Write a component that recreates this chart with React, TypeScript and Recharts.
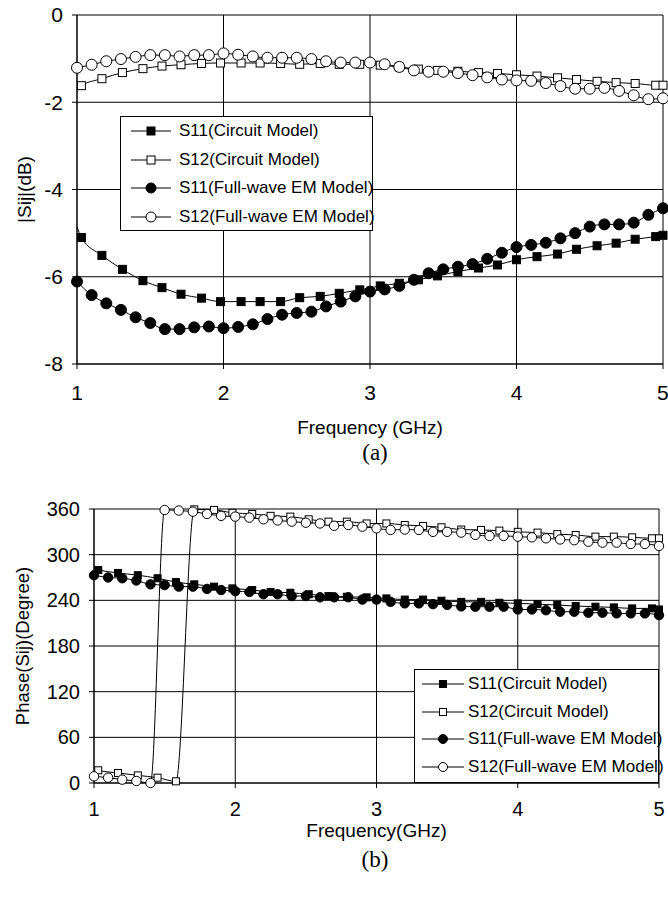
import { LineChart, Line, XAxis, YAxis, CartesianGrid, Legend } from 'recharts';

// frequency points (GHz)
const freqCircuit = [
  1.0, 1.03, 1.17, 1.31, 1.45, 1.58, 1.71, 1.85, 1.98, 2.12, 2.25, 2.39, 2.52, 2.66, 2.79, 2.93,
  3.07, 3.2, 3.33, 3.46, 3.6, 3.74, 3.87, 4.0, 4.14, 4.28, 4.41, 4.55, 4.68, 4.81, 4.95, 5.0,
];
const freqEM = [
  1.0, 1.1, 1.2, 1.3, 1.4, 1.5, 1.6, 1.7, 1.8, 1.9, 2.0, 2.1, 2.2, 2.3, 2.4, 2.5, 2.6, 2.7, 2.8, 2.9,
  3.0, 3.1, 3.2, 3.3, 3.4, 3.5, 3.6, 3.7, 3.8, 3.9, 4.0, 4.1, 4.2, 4.3, 4.4, 4.5, 4.6, 4.7, 4.8, 4.9, 5.0,
];

// (a) magnitude, dB
const s11CircuitDb = [
  -4.85, -5.1, -5.51, -5.83, -6.09, -6.25, -6.4, -6.49, -6.57, -6.57, -6.57, -6.57, -6.48, -6.45, -6.38, -6.3,
  -6.21, -6.15, -6.07, -5.98, -5.88, -5.8, -5.73, -5.61, -5.54, -5.48, -5.37, -5.29, -5.23, -5.14, -5.08, -5.05,
];
const s12CircuitDb = [
  -1.72, -1.62, -1.46, -1.32, -1.23, -1.17, -1.14, -1.11, -1.1, -1.1, -1.1, -1.11, -1.13, -1.11, -1.13, -1.13,
  -1.15, -1.19, -1.24, -1.27, -1.29, -1.32, -1.34, -1.37, -1.4, -1.44, -1.48, -1.52, -1.55, -1.57, -1.61, -1.61,
];
const s11EmDb = [
  -6.11, -6.42, -6.61, -6.76, -6.93, -7.06, -7.2, -7.2, -7.16, -7.14, -7.18,
  -7.15, -7.09, -6.97, -6.87, -6.83, -6.8, -6.68, -6.57, -6.45, -6.34,
  -6.29, -6.21, -6.07, -5.92, -5.83, -5.77, -5.71, -5.59, -5.45, -5.32,
  -5.27, -5.22, -5.12, -5.0, -4.85, -4.8, -4.8, -4.76, -4.58, -4.43,
];
const s12EmDb = [
  -1.21, -1.14, -1.06, -1.01, -0.96, -0.92, -0.92, -0.95, -0.92, -0.92, -0.88,
  -0.91, -0.95, -0.98, -0.98, -0.98, -1.01, -1.06, -1.09, -1.09, -1.09,
  -1.13, -1.19, -1.27, -1.3, -1.3, -1.33, -1.38, -1.43, -1.48, -1.5,
  -1.51, -1.56, -1.63, -1.69, -1.69, -1.67, -1.74, -1.84, -1.93, -1.91,
];

// (b) phase, degree
const s11CircuitPh = [
  281, 279.8, 276, 273, 269, 264, 261, 258, 255.7, 253.5, 251, 250, 248, 245.6, 244.7, 243.9,
  242.5, 241, 241, 239.5, 238, 238, 236.8, 236, 235, 233.8, 232.5, 231.6, 230.7, 229.4, 229.4, 228,
];
const s12CircuitPh = [
  19, 16.7, 13.2, 10, 7, 2.2, 359.5, 358.8, 355, 353.5, 351, 350, 346.5, 343.4, 343.4, 341,
  341, 339, 337.7, 336, 333, 332.5, 331.6, 330, 329, 327, 325.9, 323.7, 323.7, 322.8, 321.5, 321.5,
];
const s11EmPh = [
  273, 270, 269, 266, 261, 260, 258, 258, 255, 253.5, 252,
  251, 248, 248, 245.6, 245.6, 244, 244, 244, 241, 241,
  238, 236, 236, 235, 234, 232, 231.6, 231.6, 231.6, 228,
  228, 227, 225, 225, 223.7, 223.7, 222.8, 222.8, 222.8, 220.6,
];
const s12EmPh = [
  8.8, 7, 4.4, 2.6, 0, 358.7, 358, 356.5, 353.5, 351, 350,
  348.7, 346.5, 345, 343.4, 342, 341, 338, 339, 336.8, 334.6,
  332.5, 333, 332.5, 330, 330, 329, 326, 324.6, 324.6, 323.7,
  322.8, 321.5, 320, 319, 317, 315.8, 315.8, 314, 314, 311.4,
];

const freqTicks = [1, 2, 3, 4, 5];
const dbTicks = [-8, -6, -4, -2, 0];
const phaseTicks = [0, 60, 120, 180, 240, 300, 360];

const seriesNames = [
  'S11(Circuit Model)',
  'S12(Circuit Model)',
  'S11(Full-wave EM Model)',
  'S12(Full-wave EM Model)',
];

const zip = (xs: number[], ys: number[]) => xs.map((f, i) => ({ f, v: ys[i] }));

const FONT = 'Arial, "Liberation Sans", sans-serif';

type Shape = 'square' | 'circle';
const shapes: { shape: Shape; filled: boolean }[] = [
  { shape: 'square', filled: true },
  { shape: 'square', filled: false },
  { shape: 'circle', filled: true },
  { shape: 'circle', filled: false },
];

function Marker({ shape, filled, cx, cy, sq, r }: { shape: Shape; filled: boolean; cx: number; cy: number; sq: number; r: number }) {
  if (shape === 'square') {
    return (
      <rect x={cx - sq / 2} y={cy - sq / 2} width={sq} height={sq}
        fill={filled ? '#000' : '#fff'} stroke="#000" strokeWidth={1} />
    );
  }
  return <circle cx={cx} cy={cy} r={r} fill={filled ? '#000' : '#fff'} stroke="#000" strokeWidth={1} />;
}

// circuit series start the line at 1 GHz without a marker
const makeDot = (idx: number, sq: number, r: number) => (props: any) => {
  const { cx, cy, index } = props;
  if (cx == null || cy == null || (idx < 2 && index === 0)) return <g key={`d${idx}-${index}`} />;
  return (
    <g key={`d${idx}-${index}`}>
      <Marker shape={shapes[idx].shape} filled={shapes[idx].filled} cx={cx} cy={cy} sq={sq} r={r} />
    </g>
  );
};

function LegendBox({ width, height, rowH, padLeft, lineW, gap, sq, r }: any) {
  return (
    <div style={{
      width, height, boxSizing: 'border-box', border: '1px solid #000', background: '#fff',
      fontFamily: FONT, fontSize: 17, color: '#000',
    }}>
      {seriesNames.map((name, i) => (
        <div key={name} style={{ height: rowH, display: 'flex', alignItems: 'center', paddingLeft: padLeft }}>
          <svg width={lineW} height={14} style={{ marginRight: gap, flex: 'none' }}>
            <line x1={0} y1={7} x2={lineW} y2={7} stroke="#000" strokeWidth={1} />
            <Marker shape={shapes[i].shape} filled={shapes[i].filled} cx={lineW / 2} cy={7} sq={sq} r={r} />
          </svg>
          <span style={{ whiteSpace: 'nowrap' }}>{name}</span>
        </div>
      ))}
    </div>
  );
}

const yTitle = (text: string, x: number, size: number) => (props: any) => {
  const vb = props.viewBox;
  const cy = vb.y + vb.height / 2;
  return (
    <text x={x} y={cy} transform={`rotate(-90 ${x} ${cy})`} textAnchor="middle"
      fontFamily={FONT} fontSize={size} fill="#000">{text}</text>
  );
};

const xTitle = (text: string, y: number, size: number) => (props: any) => {
  const vb = props.viewBox;
  return (
    <text x={vb.x + vb.width / 2} y={y} textAnchor="middle" fontFamily={FONT} fontSize={size} fill="#000">{text}</text>
  );
};

function MagnitudeChart() {
  const sets = [
    zip(freqCircuit, s11CircuitDb),
    zip(freqCircuit, s12CircuitDb),
    zip(freqEM, s11EmDb),
    zip(freqEM, s12EmDb),
  ];
  return (
    <LineChart width={668} height={440} margin={{ top: 15, right: 5, left: 0, bottom: 0 }}>
      <CartesianGrid stroke="#000" strokeWidth={1} />
      <XAxis type="number" dataKey="f" domain={[1, 5]} ticks={freqTicks} height={76}
        tick={{ fontSize: 21, fill: '#000', fontFamily: FONT }} tickSize={5} tickMargin={16}
        stroke="#000" allowDuplicatedCategory={false}
        label={{ content: xTitle('Frequency (GHz)', 434, 19) }} />
      <YAxis type="number" domain={[-8, 0]} ticks={dbTicks} width={77}
        tick={{ fontSize: 21, fill: '#000', fontFamily: FONT }} tickSize={5} tickMargin={9}
        stroke="#000" label={{ content: yTitle('|Sij|(dB)', 31, 19) }} />
      {sets.map((d, i) => (
        <Line key={seriesNames[i]} data={d} dataKey="v" name={seriesNames[i]} type="monotone"
          stroke="#000" strokeWidth={1} dot={makeDot(i, 8, 5.5)} activeDot={false}
          isAnimationActive={false} />
      ))}
      <Legend layout="horizontal" verticalAlign="middle" align="center"
        wrapperStyle={{ left: 120, top: 116, width: 253, height: 115 }}
        content={() => <LegendBox width={253} height={115} rowH={28.5} padLeft={10} lineW={40} gap={8} sq={8} r={5} />} />
    </LineChart>
  );
}

function PhaseChart() {
  const sets = [
    zip(freqCircuit, s11CircuitPh),
    zip(freqCircuit, s12CircuitPh),
    zip(freqEM, s11EmPh),
    zip(freqEM, s12EmPh),
  ];
  return (
    <LineChart width={668} height={370} margin={{ top: 29, right: 9, left: 0, bottom: 0 }}>
      <CartesianGrid stroke="#000" strokeWidth={1} />
      <XAxis type="number" dataKey="f" domain={[1, 5]} ticks={freqTicks} height={67}
        tick={{ fontSize: 20, fill: '#000', fontFamily: FONT }} tickSize={5} tickMargin={14}
        stroke="#000" allowDuplicatedCategory={false}
        label={{ content: xTitle('Frequency(GHz)', 357, 19) }} />
      <YAxis type="number" domain={[0, 360]} ticks={phaseTicks} width={94}
        tick={{ fontSize: 20, fill: '#000', fontFamily: FONT }} tickSize={5} tickMargin={9}
        stroke="#000" label={{ content: yTitle('Phase(Sij)(Degree)', 29, 18.5) }} />
      {sets.map((d, i) => (
        <Line key={seriesNames[i]} data={d} dataKey="v" name={seriesNames[i]} type="monotone"
          stroke="#000" strokeWidth={1} dot={makeDot(i, 7, 4.7)} activeDot={false}
          isAnimationActive={false} />
      ))}
      <Legend layout="horizontal" verticalAlign="middle" align="center"
        wrapperStyle={{ left: 414, top: 189, width: 245, height: 114 }}
        content={() => <LegendBox width={245} height={114} rowH={27.7} padLeft={7} lineW={42} gap={4} sq={7} r={4.5} />} />
    </LineChart>
  );
}

export default function App() {
  return (
    <div style={{ position: 'absolute', left: 0, top: 0, width: 668, height: 897, background: '#fff' }}>
      <div style={{ position: 'absolute', left: 0, top: 0 }}>
        <MagnitudeChart />
      </div>
      <div style={{ position: 'absolute', left: 0, top: 480 }}>
        <PhaseChart />
      </div>
      <svg width={668} height={897} style={{ position: 'absolute', left: 0, top: 0, pointerEvents: 'none' }}>
        <text x={375} y={460} textAnchor="middle" fontFamily='"Times New Roman", "Liberation Serif", serif' fontSize={23} fill="#000">(a)</text>
        <text x={375} y={867} textAnchor="middle" fontFamily='"Times New Roman", "Liberation Serif", serif' fontSize={23} fill="#000">(b)</text>
      </svg>
    </div>
  );
}
